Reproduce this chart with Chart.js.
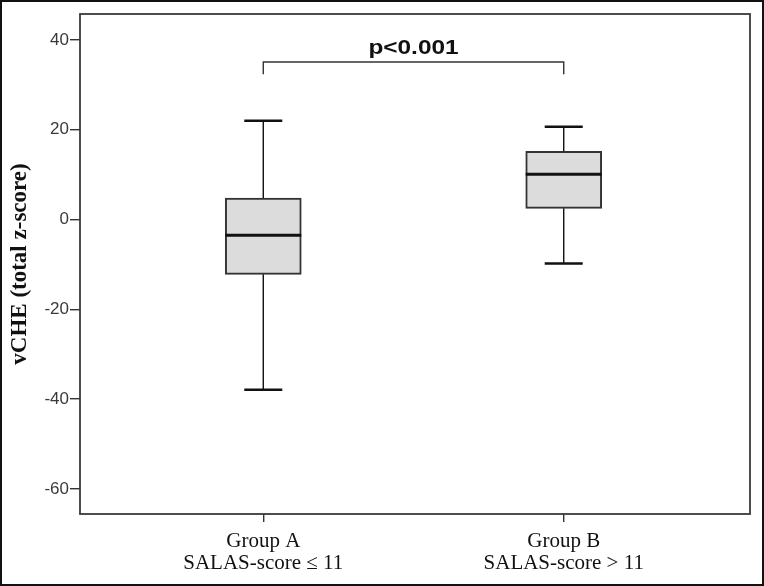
<!DOCTYPE html>
<html>
<head>
<meta charset="utf-8">
<script src="https://cdn.jsdelivr.net/npm/chart.js@4"></script>
<style>
  html, body { margin: 0; padding: 0; background: #fff; }
  #wrap { width: 764px; height: 586px; }
</style>
</head>
<body>
<div id="wrap"><canvas id="box"></canvas></div>
<script>
// Box plot data
const groups = ["Group A", "Group B"];
const subLabels = ["SALAS-score \u2264 11", "SALAS-score > 11"];
const positions = [1, 2];
const whiskerLow = [-37.9, -9.8];
const q1 = [-12.2, 2.5];
const medians = [-3.5, 10.1];
const q3 = [4.8, 15.2];
const whiskerHigh = [22.0, 20.7];
const yTicks = [-60, -40, -20, 0, 20, 40];
const pLabel = "p<0.001";
const bracketTop = 35.1;
const bracketBottom = 32.4;

// --- draw medians, whiskers, bracket, frames ---
const boxExtras = {
  id: "boxExtras",
  afterDatasetsDraw(chart) {
    const { ctx, scales: { x, y }, chartArea } = chart;
    const boxW = 76;
    ctx.save();
    ctx.strokeStyle = "#111";
    positions.forEach((p, i) => {
      const cx = x.getPixelForValue(p);
      // whisker stems
      ctx.lineWidth = 1.4;
      ctx.beginPath();
      ctx.moveTo(cx, y.getPixelForValue(q3[i]));
      ctx.lineTo(cx, y.getPixelForValue(whiskerHigh[i]));
      ctx.moveTo(cx, y.getPixelForValue(q1[i]));
      ctx.lineTo(cx, y.getPixelForValue(whiskerLow[i]));
      ctx.stroke();
      // caps
      ctx.lineWidth = 2.5;
      ctx.beginPath();
      ctx.moveTo(cx - boxW / 4, y.getPixelForValue(whiskerHigh[i]));
      ctx.lineTo(cx + boxW / 4, y.getPixelForValue(whiskerHigh[i]));
      ctx.moveTo(cx - boxW / 4, y.getPixelForValue(whiskerLow[i]));
      ctx.lineTo(cx + boxW / 4, y.getPixelForValue(whiskerLow[i]));
      ctx.stroke();
      // median
      ctx.lineWidth = 3;
      ctx.beginPath();
      ctx.moveTo(cx - boxW / 2, y.getPixelForValue(medians[i]));
      ctx.lineTo(cx + boxW / 2, y.getPixelForValue(medians[i]));
      ctx.stroke();
    });

    // significance bracket
    const xa = x.getPixelForValue(positions[0]);
    const xb = x.getPixelForValue(positions[1]);
    const yt = y.getPixelForValue(bracketTop);
    const yb = y.getPixelForValue(bracketBottom);
    ctx.strokeStyle = "#333";
    ctx.lineWidth = 1.4;
    ctx.beginPath();
    ctx.moveTo(xa, yb);
    ctx.lineTo(xa, yt);
    ctx.lineTo(xb, yt);
    ctx.lineTo(xb, yb);
    ctx.stroke();
    // the source text is a bit stretched sideways
    ctx.save();
    ctx.translate((xa + xb) / 2, yt - 4);
    ctx.scale(1.22, 1);
    ctx.fillStyle = "#111";
    ctx.font = "bold 20px 'Liberation Sans', Arial, sans-serif";
    ctx.textAlign = "center";
    ctx.textBaseline = "bottom";
    ctx.fillText(pLabel, 0, 0);
    ctx.restore();

    // plot frame
    ctx.strokeStyle = "#3a3a3a";
    ctx.lineWidth = 1.8;
    ctx.strokeRect(chartArea.left, chartArea.top,
      chartArea.right - chartArea.left, chartArea.bottom - chartArea.top);

    // outer picture frame
    ctx.strokeStyle = "#111";
    ctx.lineWidth = 2;
    ctx.strokeRect(1, 1, chart.width - 2, chart.height - 2);
    ctx.restore();
  }
};

const ctx = document.getElementById("box").getContext("2d");
new Chart(ctx, {
  type: "bar",
  data: {
    datasets: [{
      data: positions.map((p, i) => ({ x: p, y: [q1[i], q3[i]] })),
      backgroundColor: "#dcdcdc",
      borderColor: "#333",
      borderWidth: 2,
      borderSkipped: false,
      barThickness: 76
    }]
  },
  options: {
    responsive: true,
    maintainAspectRatio: false,
    animation: false,
    layout: { padding: { top: 14, right: 14, left: 0, bottom: 0 } },
    plugins: {
      legend: { display: false },
      tooltip: { enabled: false }
    },
    scales: {
      x: {
        type: "linear",
        offset: false,
        min: 0.39,
        max: 2.62,
        afterBuildTicks: (s) => { s.ticks = positions.map(v => ({ value: v })); },
        afterFit: (s) => { s.height = 72; },
        ticks: {
          color: "#111",
          font: { family: "'Liberation Serif', 'Times New Roman', serif", size: 21, lineHeight: 1.05 },
          padding: 8,
          maxRotation: 0,
          callback: (v) => {
            const i = positions.indexOf(v);
            return i >= 0 ? [groups[i], subLabels[i]] : "";
          }
        },
        grid: { offset: false, drawOnChartArea: false, tickLength: 8, color: "#333", lineWidth: 1.4 },
        border: { display: false }
      },
      y: {
        min: -65.6,
        max: 45.8,
        afterBuildTicks: (s) => { s.ticks = yTicks.map(v => ({ value: v })); },
        afterFit: (s) => { s.width = 80; },
        ticks: {
          color: "#3a3a3a",
          font: { family: "'Liberation Sans', Arial, sans-serif", size: 17 },
          padding: 1
        },
        grid: { drawOnChartArea: false, tickLength: 10, color: "#333", lineWidth: 1.4 },
        border: { display: false },
        title: {
          display: true,
          text: "vCHE (total z-score)",
          color: "#111",
          font: { family: "'Liberation Serif', 'Times New Roman', serif", size: 23, weight: "bold" },
          padding: { top: 6, bottom: 0 }
        }
      }
    }
  },
  plugins: [boxExtras]
});
</script>
</body>
</html>
